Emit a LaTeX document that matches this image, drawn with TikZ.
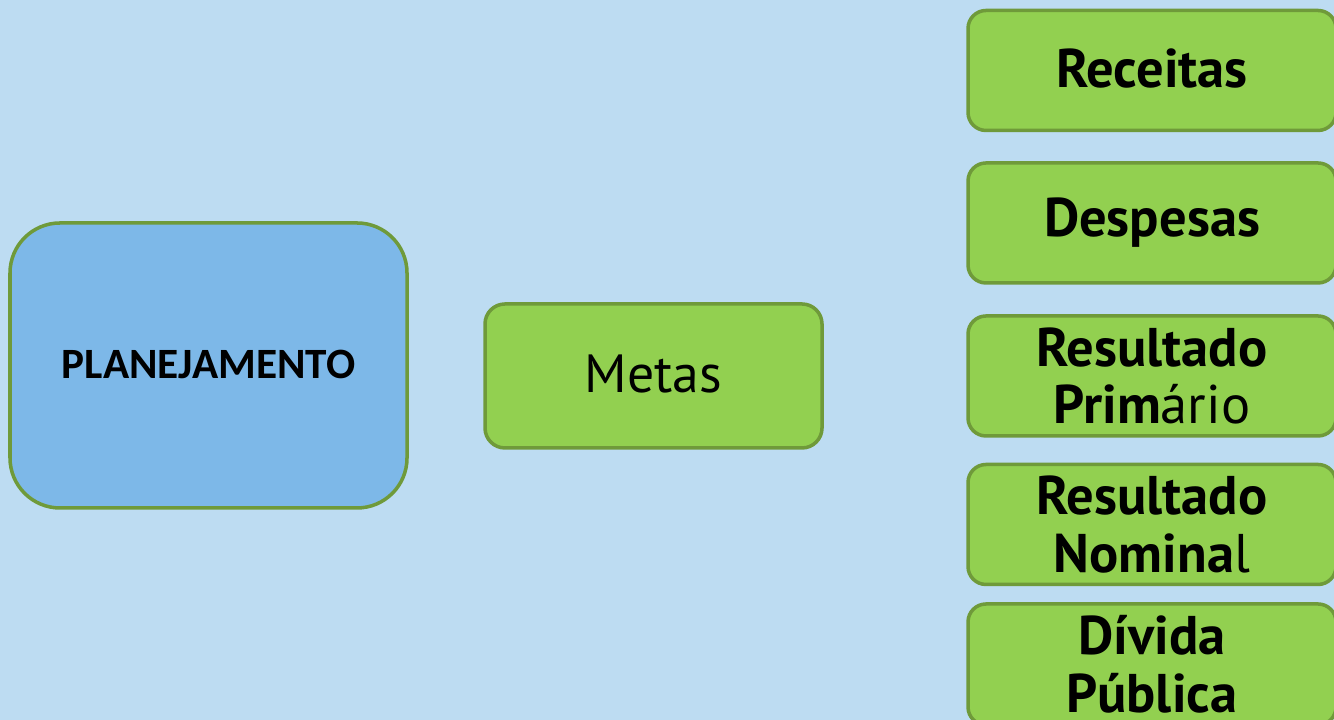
\documentclass[tikz,border=0pt]{standalone}
\usepackage{fontspec}
\setmainfont{Carlito}
\newfontfamily\boxfont{PT Sans}
\usepackage{tikz}
\definecolor{fundo}{HTML}{BDDCF2}
\definecolor{azulcaixa}{HTML}{7DB8E8}
\definecolor{verdecaixa}{HTML}{92D050}
\definecolor{verdeborda}{HTML}{6F9A3A}

\begin{document}
\begin{tikzpicture}[
  caixa/.style={draw=verdeborda, line width=1pt, inner sep=0pt, align=center},
  meta/.style={caixa, fill=verdecaixa, rounded corners=0.18cm, minimum width=3.68cm, minimum height=1.2cm,
    font=\boxfont\fontsize{15.5}{16.5}\selectfont\bfseries}
]
%%%%% Fundo %%%%%
\useasboundingbox (0,0) rectangle (13.34,7.2);
\clip (0,0) rectangle (13.34,7.2);
\fill[fundo] (0,0) rectangle (13.34,7.2);
%%%%% Caixas %%%%%
\node[caixa, fill=azulcaixa, rounded corners=0.5cm, minimum width=3.97cm, minimum height=2.85cm,
  font=\fontsize{12.3}{12.3}\selectfont\bfseries] (plan) at (2.085,3.545) {\raisebox{0.3mm}{PLANEJAMENTO}};
\node[caixa, fill=verdecaixa, rounded corners=0.2cm, minimum width=3.37cm, minimum height=1.44cm,
  font=\boxfont\fontsize{15.3}{15.3}\selectfont] (metas) at (6.535,3.44) {\raisebox{0.4mm}{Metas}};
\node[meta] (receitas) at (11.52,6.495) {\raisebox{0.4mm}{Receitas}};
\node[meta] (despesas) at (11.52,4.97) {Despesas};
\node[meta] (primario) at (11.52,3.44) {Resultado\\Prim{\mdseries ário}};
\node[meta] (nominal) at (11.52,1.955) {Resultado\\Nomina{\mdseries l}};
\node[meta, minimum height=1.21cm] (divida) at (11.52,0.555) {Dívida\\Pública};
\end{tikzpicture}
\end{document}
